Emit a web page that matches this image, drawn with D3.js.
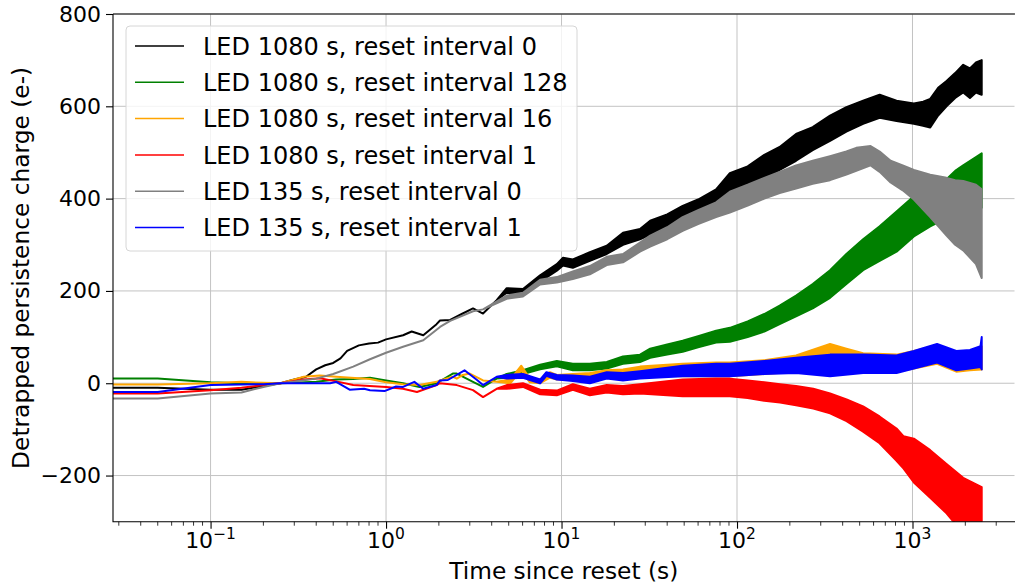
<!DOCTYPE html>
<html>
<head>
<meta charset="utf-8">
<script src="https://cdn.jsdelivr.net/npm/d3@7"></script>
<style>
body { margin: 0; background: #fff; }
svg { display: block; font-family: "DejaVu Sans", sans-serif; }
</style>
</head>
<body>
<svg id="svg" width="1015" height="584"></svg>
<script>
// series: [time (s), low, high]; a single value where the trace is a thin line
const black = [
	[0.0278,-10],[0.05,-10],[0.1,-14],[0.15,-14],[0.2,-6],[0.25,0],[0.3,8],[0.35,14],[0.4,30],[0.45,39],
	[0.5,44],[0.55,54],[0.6,70],[0.7,82],[0.8,86],[0.9,88],[1.0,95],[1.25,104],[1.4,112],[1.63,104],
	[1.94,128],[2.03,136],[2.32,137],[2.7,150],[3.13,162],[3.57,151],[4.27,180],[4.87,196,206],
	[6.03,192,204],[7.55,220,234],[9.4,244,258],[10.2,255,272],[11.6,250,268],[14.5,265,284],
	[18.1,280,298],[22.4,300,326],[28,312,334],[32,322,352],[40,338,366],[49,352,384],[60,368,398],
	[76,388,420],[91,408,455],[115,425,470],[143,445,495],[175,462,512],[217,482,540],[270,505,555],
	[339,525,580],[420,545,598],[523,562,612],[650,575,625],[811,568,612],[1018,562,606],[1150,558,610],
	[1262,554,616],[1400,580,640],[1563,600,655],[1750,618,672],[1945,630,690],[2125,618,682],
	[2300,630,695],[2480,625,700]
];
const green = [
	[0.0278,10],[0.05,10],[0.1,2],[0.15,0],[0.25,0],[0.3,1],[0.4,3],[0.52,8],[0.65,9],[0.81,12],
	[1.0,6],[1.25,0],[1.55,-8],[1.94,0],[2.4,21],[2.53,21],[3.13,3],[3.57,-8],[4.27,10],[4.87,12,20],
	[6.03,20,28],[7.55,30,40],[9.4,37,48],[11.6,28,42],[14.5,28,42],[18.1,32,46],[22.4,42,58],
	[28,46,62],[32,55,75],[40,62,84],[49,68,92],[60,78,102],[76,88,114],[91,90,120],[115,100,134],
	[143,112,150],[175,128,168],[217,145,190],[270,162,215],[339,185,245],[420,215,280],[523,245,312],
	[650,265,340],[811,285,372],[1018,318,405],[1262,340,425],[1563,358,442],[1750,365,460],
	[1945,372,472],[2300,380,490],[2480,380,498]
];
const orange = [
	[0.0278,-3],[0.05,-3],[0.1,0],[0.15,3],[0.2,1],[0.25,0],[0.3,8],[0.34,14],[0.42,17],[0.52,14],
	[0.81,9],[1.0,2],[1.25,-2],[1.55,-4],[1.94,3],[2.03,6],[2.4,14],[2.53,10],[2.74,18],[3.0,21],
	[3.57,6],[4.27,3],[5.1,0,8],[5.9,28,38],[6.6,2,10],[7.55,0,8],[8.6,12,24],[9.4,8,18],[11.6,8,20],
	[14.5,5,22],[18.1,12,28],[22.4,10,30],[28,18,36],[49,15,42],[76,15,45],[91,15,45],[143,20,50],
	[217,25,60],[339,25,85],[420,28,75],[523,28,65],[811,25,62],[1018,32,70],[1380,42,82],[1777,25,62],
	[2125,28,68],[2480,30,80]
];
const red = [
	[0.0278,-22],[0.05,-22],[0.1,-15],[0.15,-10],[0.2,-4],[0.25,0],[0.3,5],[0.34,8],[0.42,11],[0.52,4],
	[0.65,-4],[1.0,-8],[1.25,-12],[1.5,-19],[1.94,-4],[2.03,0],[2.53,-4],[3.13,-15],[3.57,-30],[4.27,-12],
	[4.87,-12,-4],[6.03,-8,0],[7.55,-24,-14],[9.4,-26,-16],[11.6,-14,-2],[14.5,-26,-12],[18.1,-20,-4],
	[22.4,-24,-6],[28,-22,-2],[49,-28,8],[76,-28,10],[91,-28,10],[115,-32,6],[143,-38,2],[176,-42,-2],
	[217,-48,-6],[272,-55,-12],[339,-65,-22],[421,-82,-35],[523,-105,-50],[649,-130,-72],[811,-168,-98],
	[890,-185,-115],[1018,-215,-120],[1262,-248,-145],[1563,-282,-175],[1945,-325,-205],[2480,-360,-225]
];
const gray = [
	[0.0278,-33],[0.05,-33],[0.1,-22],[0.15,-20],[0.2,-8],[0.25,0],[0.3,4],[0.4,10],[0.5,20],[0.65,36],
	[0.81,52],[1.0,66],[1.25,79],[1.63,93],[1.94,116],[2.03,122],[2.32,135],[3.13,156],[3.57,160],
	[4.87,183,190],[6.03,188,196],[7.55,214,224],[9.4,218,230],[11.6,226,242],[14.5,236,254],
	[18.1,256,274],[22.4,262,280],[28,285,305],[32,296,320],[40,312,338],[49,330,360],[60,345,375],
	[76,360,392],[91,370,415],[115,385,430],[143,400,445],[175,412,458],[217,422,472],[270,432,482],
	[339,440,492],[420,452,502],[478,460,510],[577,472,514],[650,458,502],[750,435,482],[880,418,472],
	[1018,398,462],[1262,360,452],[1563,320,445],[1750,300,440],[1945,288,438],[2300,258,430],[2480,228,420]
];
const blue = [
	[0.0278,-19],[0.05,-19],[0.1,-4],[0.15,-3],[0.2,-2],[0.25,0],[0.34,0],[0.48,0],[0.52,3],[0.62,-14],
	[0.75,-12],[0.81,-15],[0.98,-17],[1.14,-7],[1.25,-8],[1.45,3],[1.63,-12],[1.94,-4],[2.03,6],[2.25,7],
	[2.8,28],[3.3,7],[3.57,-4],[4.27,14],[4.87,10,18],[6.03,12,20],[7.55,0,8],[8.2,16,24],[9.4,8,18],
	[11.6,5,17],[14.5,0,14],[18.1,10,24],[22.4,6,22],[28,10,26],[49,15,38],[76,15,42],[91,15,42],
	[143,20,48],[217,22,55],[339,15,62],[523,22,62],[811,22,60],[1018,32,70],[1380,45,85],[1777,28,70],
	[2125,32,72],[2440,35,80],[2480,30,100]
];

const seriesData = [black, green, orange, red, gray, blue];
const labels = [
	'LED 1080 s, reset interval 0',
	'LED 1080 s, reset interval 128',
	'LED 1080 s, reset interval 16',
	'LED 1080 s, reset interval 1',
	'LED 135 s, reset interval 0',
	'LED 135 s, reset interval 1'
];
const colors = ['#000000', '#008000', '#ffa500', '#ff0000', '#808080', '#0000ff'];
const yTicks = [-200, 0, 200, 400, 600, 800];
const xTicks = [0.1, 1, 10, 100, 1000];
const xTickExponents = ['\u22121', '0', '1', '2', '3'];

const paddings = { left: 113, top: 14, right: 1014.5, bottom: 521.7 };
const tickFont = 22;
const labelFont = 23.3;
const legendFont = 24;

const svg = d3.select('#svg');

const xScale = d3.scaleLog()
	.domain([0.0278, 3813])
	.range([paddings.left, paddings.right]);
const yScale = d3.scaleLinear()
	.domain([-300, 800])
	.range([paddings.bottom, paddings.top]);

svg.append('defs').append('clipPath')
	.attr('id', 'plot-clip')
	.append('rect')
	.attr('x', paddings.left)
	.attr('y', paddings.top)
	.attr('width', paddings.right - paddings.left)
	.attr('height', paddings.bottom - paddings.top);

drawGrid();
drawSeries();
drawAxes();
drawLegend();

function drawGrid() {
	const g = svg.append('g').attr('stroke', '#b0b0b0').attr('stroke-width', 1).attr('opacity', 0.75);
	g.selectAll('line.vx')
		.data(xTicks)
		.enter()
		.append('line')
		.attr('x1', d => xScale(d)).attr('x2', d => xScale(d))
		.attr('y1', paddings.top).attr('y2', paddings.bottom);
	g.selectAll('line.hy')
		.data(yTicks)
		.enter()
		.append('line')
		.attr('x1', paddings.left).attr('x2', paddings.right)
		.attr('y1', d => yScale(d)).attr('y2', d => yScale(d));
}

function drawSeries() {
	const area = d3.area()
		.x(d => xScale(d[0]))
		.y0(d => yScale(d[1]))
		.y1(d => yScale(d.length > 2 ? d[2] : d[1]));

	svg.append('g')
		.attr('clip-path', 'url(#plot-clip)')
		.selectAll('path')
		.data(seriesData)
		.enter()
		.append('path')
		.attr('d', d => area(d))
		.attr('fill', (d, i) => colors[i])
		.attr('stroke', (d, i) => colors[i])
		.attr('stroke-width', 2)
		.attr('stroke-linejoin', 'round');
}

function drawAxes() {
	const xAxis = d3.axisBottom(xScale)
		.tickValues(xTicks)
		.tickSize(7)
		.tickFormat('');
	const gx = svg.append('g')
		.attr('transform', 'translate(0,' + paddings.bottom + ')')
		.call(xAxis);
	gx.select('.domain').remove();
	gx.selectAll('.tick line').attr('stroke', '#000').attr('stroke-width', 1.1);

	// minor ticks
	const minor = [];
	for (let e = -2; e <= 3; e++) {
		for (let k = 2; k <= 9; k++) {
			const v = k * Math.pow(10, e);
			if (v > xScale.domain()[0] && v < xScale.domain()[1]) minor.push(v);
		}
	}
	svg.append('g')
		.selectAll('line')
		.data(minor)
		.enter()
		.append('line')
		.attr('x1', d => xScale(d)).attr('x2', d => xScale(d))
		.attr('y1', paddings.bottom).attr('y2', paddings.bottom + 4)
		.attr('stroke', '#000').attr('stroke-width', 0.8);

	const xl = svg.append('g')
		.selectAll('text')
		.data(xTicks)
		.enter()
		.append('text')
		.attr('x', d => xScale(d))
		.attr('y', 548)
		.attr('text-anchor', 'middle')
		.attr('font-size', tickFont)
		.attr('fill', '#000');
	xl.append('tspan').text('10');
	xl.append('tspan')
		.attr('dy', -9)
		.attr('font-size', 15.5)
		.text((d, i) => xTickExponents[i]);

	const yAxis = d3.axisLeft(yScale)
		.tickValues(yTicks)
		.tickSize(7)
		.tickPadding(5)
		.tickFormat(d => d < 0 ? '\u2212' + Math.abs(d) : d);
	const gy = svg.append('g')
		.attr('transform', 'translate(' + paddings.left + ',0)')
		.call(yAxis);
	gy.select('.domain').remove();
	gy.selectAll('.tick line').attr('stroke', '#000').attr('stroke-width', 1.1);
	gy.selectAll('.tick text')
		.attr('font-size', tickFont)
		.attr('font-family', '"DejaVu Sans", sans-serif')
		.attr('fill', '#000');

	// spines
	svg.append('path')
		.attr('d', 'M' + paddings.left + ',' + paddings.top + 'H' + (paddings.right + 2) +
			'M' + paddings.left + ',' + paddings.top + 'V' + paddings.bottom + 'H' + (paddings.right + 2))
		.attr('fill', 'none')
		.attr('stroke', '#000')
		.attr('stroke-width', 1.1);

	svg.append('text')
		.attr('x', (paddings.left + paddings.right) / 2)
		.attr('y', 579)
		.attr('text-anchor', 'middle')
		.attr('font-size', labelFont)
		.text('Time since reset (s)');

	svg.append('text')
		.attr('transform', 'translate(29,' + (paddings.top + paddings.bottom) / 2 + ') rotate(-90)')
		.attr('text-anchor', 'middle')
		.attr('font-size', labelFont)
		.text('Detrapped persistence charge (e-)');
}

function drawLegend() {
	const lg = svg.append('g');
	lg.append('rect')
		.attr('x', 126).attr('y', 26)
		.attr('width', 451).attr('height', 225)
		.attr('rx', 4)
		.attr('fill', '#fff').attr('fill-opacity', 0.8)
		.attr('stroke', '#d6d6d6').attr('stroke-width', 1);

	const rows = lg.selectAll('g.row')
		.data(labels)
		.enter()
		.append('g')
		.attr('transform', (d, i) => 'translate(0,' + (46 + i * 36.3) + ')');
	rows.append('line')
		.attr('x1', 135).attr('x2', 184)
		.attr('stroke', (d, i) => colors[i])
		.attr('stroke-width', 1.5);
	rows.append('text')
		.attr('x', 203)
		.attr('dy', '0.36em')
		.attr('font-size', legendFont)
		.text(d => d);
}
</script>
</body>
</html>
